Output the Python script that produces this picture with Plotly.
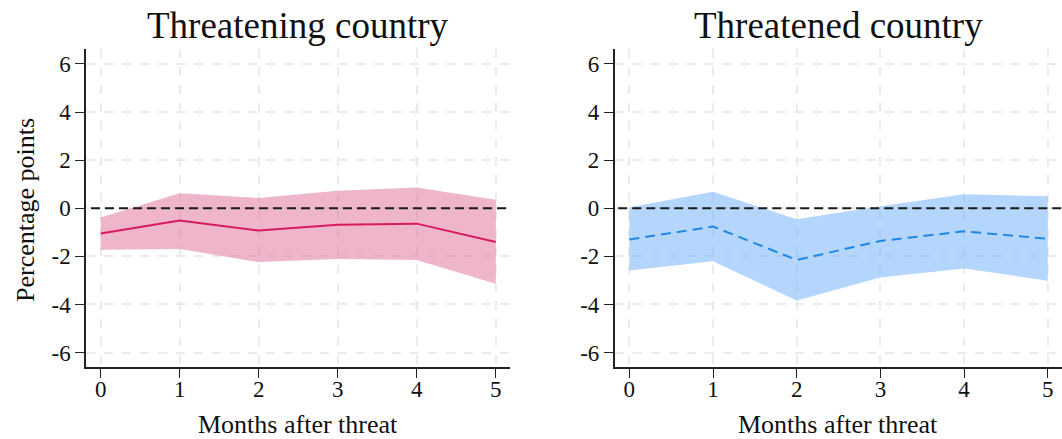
import plotly.graph_objects as go

# Months after the threat
months = [0, 1, 2, 3, 4, 5]

# Threatening country: point estimates and confidence band
threatening_mean = [-1.05, -0.51, -0.93, -0.69, -0.64, -1.40]
threatening_upper = [-0.39, 0.62, 0.43, 0.73, 0.86, 0.35]
threatening_lower = [-1.73, -1.69, -2.24, -2.11, -2.15, -3.14]

# Threatened country: point estimates and confidence band
threatened_mean = [-1.30, -0.76, -2.15, -1.36, -0.96, -1.27]
threatened_upper = [0.04, 0.69, -0.46, 0.08, 0.58, 0.50]
threatened_lower = [-2.59, -2.20, -3.84, -2.88, -2.51, -3.01]

panel_titles = ["Threatening country", "Threatened country"]
y_ticks = [-6, -4, -2, 0, 2, 4, 6]
y_tick_labels = ["-6", "-4", "-2", "0", "2", "4", "6"]
x_tick_labels = ["0", "1", "2", "3", "4", "5"]
x_label = "Months after threat"
y_label = "Percentage points"

FONT = "Liberation Serif, DejaVu Serif, serif"

fig = go.Figure()

panels = [
    dict(mean=threatening_mean, up=threatening_upper, lo=threatening_lower,
         line="#d81b60", band="rgba(224,120,160,0.55)", dash="solid",
         xa="x", ya="y"),
    dict(mean=threatened_mean, up=threatened_upper, lo=threatened_lower,
         line="#1e88e5", band="rgba(120,180,250,0.55)", dash="10px,6px",
         xa="x2", ya="y2"),
]

for p in panels:
    # confidence band
    fig.add_trace(go.Scatter(x=months, y=p["up"], mode="lines",
                             line=dict(width=0), showlegend=False,
                             hoverinfo="skip", xaxis=p["xa"], yaxis=p["ya"]))
    fig.add_trace(go.Scatter(x=months, y=p["lo"], mode="lines",
                             line=dict(width=0), fill="tonexty",
                             fillcolor=p["band"], showlegend=False,
                             hoverinfo="skip", xaxis=p["xa"], yaxis=p["ya"]))
    # zero reference line
    fig.add_trace(go.Scatter(x=[-0.3, 5.3], y=[0, 0], mode="lines",
                             line=dict(color="#1a1a1a", width=2, dash="9px,5px"),
                             showlegend=False, hoverinfo="skip",
                             xaxis=p["xa"], yaxis=p["ya"]))
    # point estimates
    fig.add_trace(go.Scatter(x=months, y=p["mean"], mode="lines",
                             line=dict(color=p["line"], width=2, dash=p["dash"]),
                             showlegend=False, xaxis=p["xa"], yaxis=p["ya"]))

axis_common = dict(
    showline=True, linecolor="#222222", linewidth=1.5,
    ticks="outside", ticklen=9, tickwidth=1.2, tickcolor="#222222",
    showgrid=True, gridcolor="#ebebeb", griddash="dash", gridwidth=1.5,
    zeroline=False,
    tickfont=dict(family=FONT, size=23, color="#111111"),
)
x_common = dict(tickvals=months, ticktext=x_tick_labels,
                ticklabelstandoff=-8, **axis_common)
y_common = dict(range=[-6.6, 6.62], tickvals=y_ticks, ticktext=y_tick_labels,
                **axis_common)

fig.update_layout(
    width=1062, height=439,
    margin=dict(l=0, r=0, t=49, b=72),
    paper_bgcolor="white", plot_bgcolor="white",
    xaxis=dict(domain=[86 / 1062, 510 / 1062], range=[-0.186, 5.18],
               anchor="y", **x_common),
    yaxis=dict(anchor="x", **y_common),
    xaxis2=dict(domain=[614.7 / 1062, 1.0], range=[-0.175, 5.17],
                anchor="y2", **x_common),
    yaxis2=dict(anchor="x2", **y_common),
)

PLOT_H = 439 - 49 - 72


def ypaper(py):
    return 1 - (py - 49) / PLOT_H


annotations = []
for title, cx in zip(panel_titles, [298, 838]):
    annotations.append(dict(
        text=title, x=cx / 1062, y=ypaper(25), xref="paper", yref="paper",
        showarrow=False, yanchor="middle", xanchor="center",
        font=dict(family=FONT, size=37, color="#111111")))
    annotations.append(dict(
        text=x_label, x=cx / 1062, y=ypaper(424), xref="paper", yref="paper",
        showarrow=False, yanchor="middle", xanchor="center",
        font=dict(family=FONT, size=26, color="#111111")))

annotations.append(dict(
    text=y_label, x=25 / 1062, y=ypaper(210), xref="paper", yref="paper",
    showarrow=False, textangle=-90, yanchor="middle", xanchor="center",
    font=dict(family=FONT, size=26, color="#111111")))
fig.update_layout(annotations=annotations)

fig.write_html("out.html")
